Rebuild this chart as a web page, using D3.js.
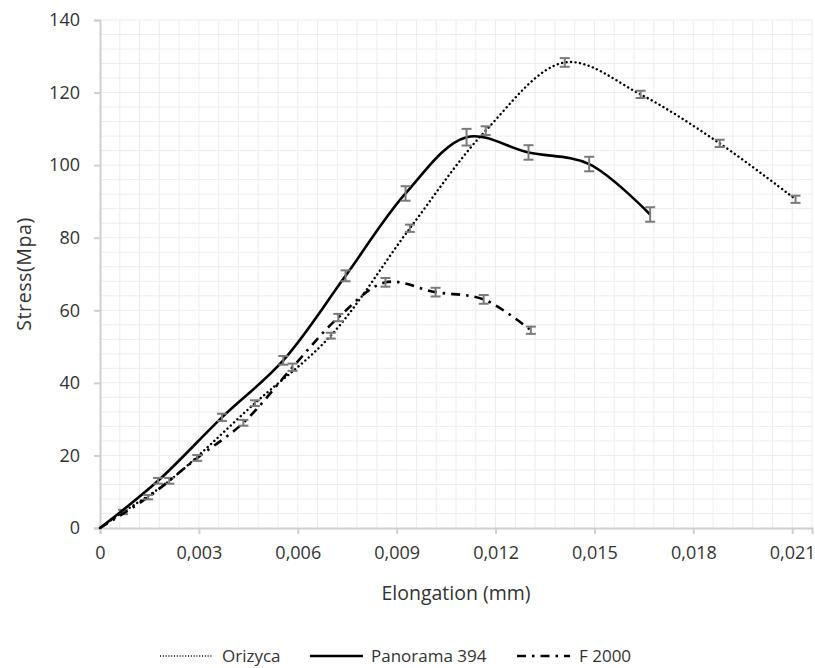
<!DOCTYPE html>
<html lang="en">
  <head>
    <meta charset="UTF-8" />
    <title>Stress vs elongation</title>
    <script src="https://cdn.jsdelivr.net/npm/d3@7"></script>
    <style>
      body {
        margin: 0;
        background: #fff;
        font-family: "Open Sans", sans-serif;
      }
      text {
        fill: #333;
      }
    </style>
  </head>
  <body>
    <script>
      // values
      var xTicks = [0, 0.003, 0.006, 0.009, 0.012, 0.015, 0.018, 0.021];
      var yTicks = [0, 20, 40, 60, 80, 100, 120, 140];

      var orizycaX = [0, 0.0007, 0.0021, 0.0047, 0.007, 0.0094, 0.0117, 0.0141, 0.0164, 0.0188, 0.0211];
      var orizycaY = [0, 4.4, 13, 34.4, 53, 82.6, 109.5, 128.3, 119.5, 106, 90.6];
      var orizycaErr = [0, 0.6, 0.8, 0.8, 0.8, 1, 1.2, 1.2, 1, 1, 1];

      var panoramaX = [0, 0.00176, 0.0037, 0.00556, 0.00745, 0.00927, 0.01112, 0.013, 0.01484, 0.01669];
      var panoramaY = [0, 13, 30.5, 46.2, 69.5, 92.2, 107.7, 103.5, 100.3, 86.4];
      var panoramaErr = [0, 0.8, 1, 1.2, 1.5, 2, 2.3, 2, 2, 2];

      var f2000X = [0, 0.00146, 0.00295, 0.00435, 0.00584, 0.00723, 0.00866, 0.01018, 0.01164, 0.01307];
      var f2000Y = [0, 8.5, 19.3, 29, 44.3, 58, 67.7, 65, 63, 54.5];
      var f2000Err = [0, 0.6, 0.8, 0.8, 1, 1, 1.2, 1.2, 1.2, 1];

      var seriesNames = ["Orizyca", "Panorama 394", "F 2000"];

      var width = 815, height = 668;
      var mLeft = 100, mTop = 20, plotW = 712, plotH = 508;

      var svg = d3.select("body").append("svg")
        .attr("width", width)
        .attr("height", height);

      var x = d3.scaleLinear().domain([0, 0.0216]).range([mLeft, mLeft + plotW]);
      var y = d3.scaleLinear().domain([0, 140]).range([mTop + plotH, mTop]);

      // minor grid
      var grid = svg.append("g").attr("stroke", "#ececec").attr("stroke-width", 1);
      grid.selectAll("line.v")
        .data(d3.range(1, 37).map(function(i) { return i * 0.0006; }))
        .join("line")
        .attr("x1", function(d) { return x(d); })
        .attr("x2", function(d) { return x(d); })
        .attr("y1", mTop)
        .attr("y2", mTop + plotH);
      grid.selectAll("line.h")
        .data(d3.range(1, 36).map(function(i) { return i * 4; }))
        .join("line")
        .attr("x1", mLeft)
        .attr("x2", mLeft + plotW)
        .attr("y1", function(d) { return y(d); })
        .attr("y2", function(d) { return y(d); });

      var fmt = function(d) { return d === 0 ? "0" : d3.format(".3f")(d).replace(".", ","); };

      var xAxis = svg.append("g")
        .attr("transform", "translate(0," + (mTop + plotH) + ")")
        .call(d3.axisBottom(x).tickValues(xTicks).tickFormat(fmt).tickSizeOuter(0).tickSize(6).tickPadding(12));
      var yAxis = svg.append("g")
        .attr("transform", "translate(" + mLeft + ",0)")
        .call(d3.axisLeft(y).tickValues(yTicks).tickSizeOuter(0).tickSize(6).tickPadding(14));

      [xAxis, yAxis].forEach(function(a) {
        a.select(".domain").attr("stroke", "#cfcfcf").attr("stroke-width", 2);
        a.selectAll(".tick line").attr("stroke", "#cfcfcf").attr("stroke-width", 2);
        a.selectAll(".tick text")
          .attr("fill", "#333")
          .style("font-family", "'Open Sans', sans-serif")
          .style("font-size", "18px");
      });

      svg.append("text")
        .attr("x", 456)
        .attr("y", 600)
        .attr("text-anchor", "middle")
        .style("font-size", "19.5px")
        .text("Elongation (mm)");

      svg.append("text")
        .attr("transform", "translate(31,274) rotate(-90)")
        .attr("text-anchor", "middle")
        .style("font-size", "19.5px")
        .style("letter-spacing", "0.6px")
        .text("Stress(Mpa)");

      var series = [
        { name: seriesNames[0], xs: orizycaX, ys: orizycaY, err: orizycaErr, dash: "0.1,4.4", cap: "round", w: 2.4 },
        { name: seriesNames[1], xs: panoramaX, ys: panoramaY, err: panoramaErr, dash: null, cap: "butt", w: 2.6 },
        { name: seriesNames[2], xs: f2000X, ys: f2000Y, err: f2000Err, dash: "9,6,2.5,6", cap: "butt", w: 2.6 }
      ];

      var line = d3.line()
        .x(function(d) { return x(d[0]); })
        .y(function(d) { return y(d[1]); })
        .curve(d3.curveCatmullRom.alpha(0.5));

      series.forEach(function(s) {
        var pts = s.xs.map(function(v, i) { return [v, s.ys[i], s.err[i]]; });

        svg.append("path")
          .datum(pts)
          .attr("fill", "none")
          .attr("stroke", "#000")
          .attr("stroke-width", s.w)
          .attr("stroke-linecap", s.cap)
          .attr("stroke-dasharray", s.dash)
          .attr("d", line);

        var eb = svg.append("g").attr("stroke", "#7a7a7a").attr("stroke-width", 2);
        var bars = pts.filter(function(d) { return d[2] > 0; });
        eb.selectAll("line.stem").data(bars).join("line")
          .attr("x1", function(d) { return x(d[0]); })
          .attr("x2", function(d) { return x(d[0]); })
          .attr("y1", function(d) { return y(d[1] - d[2]); })
          .attr("y2", function(d) { return y(d[1] + d[2]); });
        eb.selectAll("line.top").data(bars).join("line")
          .attr("x1", function(d) { return x(d[0]) - 5; })
          .attr("x2", function(d) { return x(d[0]) + 5; })
          .attr("y1", function(d) { return y(d[1] + d[2]); })
          .attr("y2", function(d) { return y(d[1] + d[2]); });
        eb.selectAll("line.bot").data(bars).join("line")
          .attr("x1", function(d) { return x(d[0]) - 5; })
          .attr("x2", function(d) { return x(d[0]) + 5; })
          .attr("y1", function(d) { return y(d[1] - d[2]); })
          .attr("y2", function(d) { return y(d[1] - d[2]); });
      });

      // legend
      var legendX = [160, 310, 517];
      var legend = svg.append("g");
      series.forEach(function(s, i) {
        var g = legend.append("g").attr("transform", "translate(" + legendX[i] + ",656)");
        g.append("line")
          .attr("x1", 0).attr("x2", 53)
          .attr("stroke", "#000")
          .attr("stroke-width", i === 0 ? 1.6 : 2.4)
          .attr("stroke-dasharray", i === 0 ? "1,1.8" : s.dash);
        g.append("text")
          .attr("x", i === 1 ? 61 : 62)
          .attr("dy", "0.35em")
          .style("font-size", "17px")
          .text(s.name);
      });
    </script>
  </body>
</html>
